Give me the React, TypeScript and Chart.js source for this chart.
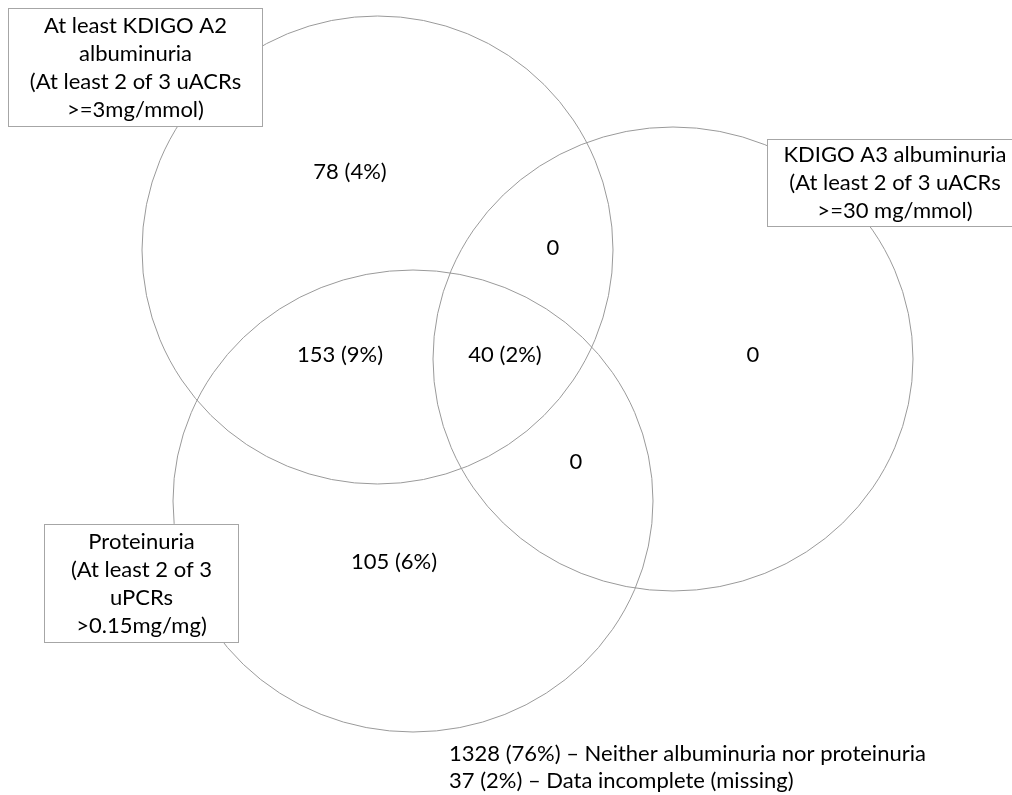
import React, { useEffect, useRef } from 'react';
import { Chart, registerables } from 'chart.js';

Chart.register(...registerables);

// ---- data ----
const setLabels: string[][] = [
  ['At least KDIGO A2', 'albuminuria', '(At least 2 of 3 uACRs', '>=3mg/mmol)'],
  ['KDIGO A3 albuminuria', '(At least 2 of 3 uACRs', '>=30 mg/mmol)'],
  ['Proteinuria', '(At least 2 of 3', 'uPCRs', '>0.15mg/mg)'],
];
const regionNames = ['A2 only', 'A2 & A3', 'A3 only', 'A2 & P', 'A2 & A3 & P', 'A3 & P', 'P only'];
const regionCounts = [78, 0, 0, 153, 40, 0, 105];
const regionPercents: (number | null)[] = [4, null, null, 9, 2, null, 6];
const footnoteCounts = [1328, 37];
const footnotePercents = [76, 2];
const footnoteTexts = ['Neither albuminuria nor proteinuria', 'Data incomplete (missing)'];

// ---- layout (chart units = pixels of the 1012x795 frame) ----
const setGeometry = [
  { cx: 377.5, cy: 250, rx: 235.5, ry: 234 },
  { cx: 673, cy: 359, rx: 240, ry: 232 },
  { cx: 413, cy: 501, rx: 240, ry: 231 },
];
const setBoxes = [
  { x0: 8, y0: 8, x1: 262, y1: 126 },
  { x0: 767, y0: 139, x1: 1022, y1: 226 },
  { x0: 44, y0: 524, x1: 238, y1: 642 },
];
const regionPositions = [
  [350, 172],
  [553, 248],
  [753, 355],
  [340, 355],
  [505, 355],
  [576, 462],
  [394, 562],
];
const footnotePositions = [
  [449, 754],
  [449, 781],
];

const W = 1012;
const H = 795;
const FONT = '22px Lato, "Noto Sans", sans-serif';
const LINE_H = 28;
const STROKE = '#9a9a9a';

const regionText = (i: number) =>
  regionPercents[i] == null ? `${regionCounts[i]}` : `${regionCounts[i]} (${regionPercents[i]}%)`;

const vennPlugin = {
  id: 'venn',
  afterDatasetsDraw(chart: any) {
    const { ctx, scales } = chart;
    const xs = scales.x;
    const ys = scales.y;
    ctx.save();
    // ellipses
    const centers = chart.getDatasetMeta(0).data;
    setGeometry.forEach((g, i) => {
      const p = centers[i];
      const rpx = Math.abs(xs.getPixelForValue(g.cx + g.rx) - xs.getPixelForValue(g.cx));
      const rpy = Math.abs(ys.getPixelForValue(g.cy + g.ry) - ys.getPixelForValue(g.cy));
      ctx.beginPath();
      ctx.ellipse(p.x, p.y, rpx, rpy, 0, 0, Math.PI * 2);
      ctx.strokeStyle = STROKE;
      ctx.lineWidth = 1;
      ctx.stroke();
    });
    // boxes with set labels
    ctx.font = FONT;
    ctx.textAlign = 'center';
    ctx.textBaseline = 'middle';
    setBoxes.forEach((b, i) => {
      const x0 = Math.round(xs.getPixelForValue(b.x0)) + 0.5;
      const x1 = Math.round(xs.getPixelForValue(b.x1)) + 0.5;
      const y0 = Math.round(ys.getPixelForValue(b.y0)) + 0.5;
      const y1 = Math.round(ys.getPixelForValue(b.y1)) + 0.5;
      ctx.fillStyle = '#ffffff';
      ctx.fillRect(x0, y0, x1 - x0, y1 - y0);
      ctx.strokeStyle = '#a6a6a6';
      ctx.lineWidth = 1;
      ctx.strokeRect(x0, y0, x1 - x0, y1 - y0);
      const lines = setLabels[i];
      const cxp = (x0 + x1) / 2;
      const cyp = (y0 + y1) / 2;
      ctx.fillStyle = '#000000';
      lines.forEach((t, k) => {
        ctx.fillText(t, cxp, cyp + (k - (lines.length - 1) / 2) * LINE_H);
      });
    });
    // region counts
    const regionPts = chart.getDatasetMeta(1).data;
    ctx.fillStyle = '#000000';
    regionPts.forEach((p: any, i: number) => {
      ctx.fillText(regionText(i), p.x, p.y);
    });
    // footnotes
    ctx.textAlign = 'left';
    const fn = chart.getDatasetMeta(2).data;
    fn.forEach((p: any, i: number) => {
      ctx.fillText(`${footnoteCounts[i]} (${footnotePercents[i]}%) \u2013 ${footnoteTexts[i]}`, p.x, p.y);
    });
    ctx.restore();
  },
};

export default function App() {
  const ref = useRef<HTMLCanvasElement | null>(null);
  useEffect(() => {
    if (!ref.current) return;
    const chart = new Chart(ref.current, {
      type: 'scatter',
      data: {
        datasets: [
          {
            label: 'Sets',
            data: setGeometry.map((g) => ({ x: g.cx, y: g.cy })),
            pointRadius: 0,
            pointHoverRadius: 0,
          },
          {
            label: 'Regions',
            data: regionPositions.map((p, i) => ({ x: p[0], y: p[1], name: regionNames[i] })) as any,
            pointRadius: 0,
            pointHoverRadius: 0,
          },
          {
            label: 'Footnotes',
            data: footnotePositions.map((p) => ({ x: p[0], y: p[1] })),
            pointRadius: 0,
            pointHoverRadius: 0,
          },
        ],
      },
      options: {
        animation: false,
        responsive: false,
        layout: { padding: 0 },
        scales: {
          x: { type: 'linear', min: 0, max: W, display: false },
          y: { type: 'linear', min: 0, max: H, reverse: true, display: false },
        },
        plugins: {
          legend: { display: false },
          tooltip: { enabled: false },
        },
        events: [],
      },
      plugins: [vennPlugin],
    });
    return () => chart.destroy();
  }, []);
  return (
    <div style={{ position: 'fixed', left: 0, top: 0, width: W, height: H, background: '#fff' }}>
      <canvas ref={ref} width={W} height={H} style={{ display: 'block' }} />
    </div>
  );
}
